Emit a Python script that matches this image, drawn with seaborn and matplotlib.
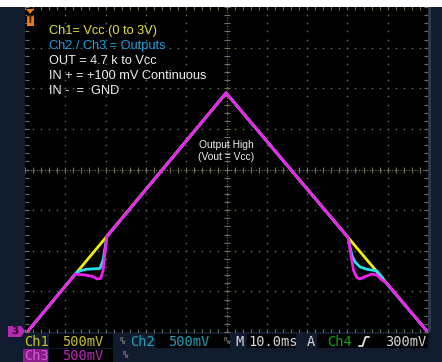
import numpy as np
import pandas as pd
import matplotlib
matplotlib.use("Agg")
import matplotlib.pyplot as plt
import seaborn as sns
from matplotlib.patches import Rectangle, Polygon
from matplotlib.lines import Line2D

# Scope traces: time in ms, voltage in V
ch1_time = [0.74, 49.9, 99.75]
ch1_volt = [0.0, 2.93, 0.0]

ch2_time = [0.74, 12.6, 13.6, 15.3, 18.6, 19.4, 20.3, 49.9,
            80.2, 80.6, 81.2, 81.9, 83.1, 84.8, 87.3, 88.5, 89.3, 99.75]
ch2_volt = [0.0, 0.71, 0.74, 0.76, 0.77, 0.88, 1.16, 2.93,
            1.15, 1.04, 0.92, 0.85, 0.79, 0.76, 0.74, 0.67, 0.61, 0.0]

ch3_time = [0.74, 12.5, 14.9, 16.95, 17.9, 18.8, 19.4, 19.85, 20.3, 49.9,
            80.2, 80.8, 81.5, 82.3, 83.1, 84.4, 86.0, 87.3, 88.5, 89.75, 99.75]
ch3_volt = [0.0, 0.70, 0.69, 0.67, 0.64, 0.65, 0.75, 0.96, 1.16, 2.93,
            1.15, 0.96, 0.75, 0.66, 0.64, 0.67, 0.70, 0.69, 0.63, 0.59, 0.0]

notes = ["Ch1= Vcc (0 to 3V)", "Ch2 / Ch3 = Outputs", "OUT = 4.7 k to Vcc",
         "IN + = +100 mV Continuous", "IN -  =  GND"]
note_colors = ["#e6e232", "#1e9fe0", "#f0f0f0", "#f0f0f0", "#f0f0f0"]

W, H = 442, 362
NAVY = "#111b2e"
GRID = "#727256"
YELLOW, CYAN, MAGENTA = "#f2f000", "#22e2ee", "#f21ef2"

sns.set_theme(style="dark")
plt.rcParams["font.family"] = ["Liberation Sans", "DejaVu Sans"]

fig = plt.figure(figsize=(W / 100, H / 100), dpi=100, facecolor=NAVY)


def fx(x):
    return x / W


def fy(y):
    return 1 - y / H


# white strip along the top edge
fig.patches.append(Rectangle((0, fy(7)), 1, 7 / H, transform=fig.transFigure,
                             facecolor="white", edgecolor="none", zorder=0))
# lighter strip at the right edge of the screen
fig.patches.append(Rectangle((fx(428), fy(332)), 3 / W, 325 / H, transform=fig.transFigure,
                             facecolor="#2c3a4e", edgecolor="none", zorder=0))

ax = fig.add_axes([fx(25), fy(332), (428 - 25) / W, (332 - 7) / H])
ax.set_facecolor("black")
ax.set_xlim(0, 100)
ax.set_ylim(-0.012, 3.988)
ax.set_xticks([])
ax.set_yticks([])
ax.grid(False)
for s in ax.spines.values():
    s.set_visible(False)

T = ax.transAxes
# graticule: dotted division lines
ys_fine = np.arange(0, 41) / 40
xs_fine = np.arange(0, 51) / 50
for k in range(1, 10):
    if k == 5:
        continue
    ax.plot(np.full_like(ys_fine, k / 10), ys_fine, ls="none", marker="s", ms=1.0,
            mew=0, color=GRID, transform=T, zorder=1)
for k in range(1, 8):
    if k == 4:
        continue
    ax.plot(xs_fine, np.full_like(xs_fine, k / 8), ls="none", marker="s", ms=1.0,
            mew=0, color=GRID, transform=T, zorder=1)
# center cross with minor ticks
ax.plot([0.5, 0.5], [0, 1], ls=(0, (1, 1.5)), lw=0.8, color=GRID, transform=T, zorder=1)
ax.plot([0, 1], [0.5, 0.5], ls=(0, (1, 1.5)), lw=0.8, color=GRID, transform=T, zorder=1)
ax.plot(np.full_like(ys_fine, 0.5), ys_fine, ls="none", marker="_", ms=4.5, mew=0.8,
        color=GRID, transform=T, zorder=1)
ax.plot(xs_fine, np.full_like(xs_fine, 0.5), ls="none", marker="|", ms=4.5, mew=0.8,
        color=GRID, transform=T, zorder=1)
# edge ticks
for e in (0.004, 0.996):
    ax.plot(xs_fine, np.full_like(xs_fine, e), ls="none", marker="|", ms=3, mew=0.8,
            color=GRID, transform=T, zorder=1)
    ax.plot(np.full_like(ys_fine, e), ys_fine, ls="none", marker="_", ms=3, mew=0.8,
            color=GRID, transform=T, zorder=1)

# traces
for t, v, c in ((ch1_time, ch1_volt, YELLOW), (ch2_time, ch2_volt, CYAN),
                (ch3_time, ch3_volt, MAGENTA)):
    df = pd.DataFrame({"t": t, "v": v})
    sns.lineplot(data=df, x="t", y="v", sort=False, estimator=None, color=c,
                 lw=2.0, ax=ax, zorder=3, legend=False)
ax.set_xlabel("")
ax.set_ylabel("")

# annotations on screen
for i, (s, c) in enumerate(zip(notes, note_colors)):
    fig.text(fx(49), fy(31 + 15 * i), s, color=c, fontsize=9.2, ha="left", va="center")
fig.text(fx(226), fy(145), "Output High", color="#f0f0f0", fontsize=7.4, ha="center", va="center")
fig.text(fx(226), fy(157.5), "(Vout = Vcc)", color="#f0f0f0", fontsize=7.4, ha="center", va="center")

# trigger position marker
ORANGE = "#f07a10"
fig.patches.append(Polygon([(fx(26), fy(9)), (fx(34), fy(9)), (fx(30), fy(14))],
                           closed=True, transform=fig.transFigure, facecolor=ORANGE,
                           edgecolor="none", zorder=5))
fig.patches.append(Rectangle((fx(26.5), fy(25.5)), 7 / W, 11 / H,
                             transform=fig.transFigure, facecolor=ORANGE,
                             edgecolor="none", zorder=5))
fig.text(fx(30), fy(20), "T", color="#3a1a00", fontsize=7, fontweight="bold",
         family="DejaVu Sans", ha="center", va="center", zorder=6)

# channel 3 ground marker
fig.patches.append(Polygon([(fx(8), fy(326)), (fx(21), fy(326)), (fx(25), fy(331)),
                            (fx(21), fy(337)), (fx(8), fy(337))], closed=True,
                           transform=fig.transFigure, facecolor="#b52ab5",
                           edgecolor="none", zorder=5))
fig.text(fx(14.5), fy(331.5), "3", color="#2a0a2a", fontsize=7.5, fontweight="bold",
         ha="center", va="center", zorder=6, family="DejaVu Sans")

# status bar
MONO = "DejaVu Sans Mono"
for x0, x1, y0, y1 in ((49, 113, 334, 348), (155, 230, 334, 348),
                       (247, 296, 334, 348), (317, 428, 334, 348),
                       (49, 113, 349, 362)):
    fig.patches.append(Rectangle((fx(x0), fy(y1)), (x1 - x0) / W, (y1 - y0) / H,
                                 transform=fig.transFigure, facecolor="black",
                                 edgecolor="none", zorder=2))
fig.patches.append(Rectangle((fx(23), fy(362)), 25 / W, 13 / H, transform=fig.transFigure,
                             facecolor="#8a1c8a", edgecolor="none", zorder=2))

row1, row2 = 341.5, 355.5
status = [
    (24, row1, "Ch1", "#c8c42e"), (62, row1, "500mV", "#c8c42e"),
    (130, row1, "Ch2", "#22a0b4"), (168, row1, "500mV", "#22a0b4"),
    (235, row1, "M", "#d8d8d8"), (248, row1, "10.0ms", "#d8d8d8"),
    (307, row1, "A", "#d8d8d8"), (327, row1, "Ch4", "#12a012"),
    (385, row1, "300mV", "#d8d8d8"),
    (24, row2, "Ch3", "#d25ad2"), (62, row2, "500mV", "#b82ab8"),
]
for x, y, s, c in status:
    fig.text(fx(x), fy(y), s, color=c, fontsize=9.8, family=MONO, ha="left",
             va="center", zorder=4)
for x, y in ((119, row1), (224, row1), (122, row2)):
    fig.text(fx(x), fy(y - 2), "B", color="#9a9a9a", fontsize=4, family=MONO,
             ha="left", va="center", zorder=4)
    fig.text(fx(x + 3), fy(y + 1.5), "W", color="#9a9a9a", fontsize=4, family=MONO,
             ha="left", va="center", zorder=4)
# rising edge trigger glyph
fig.lines.append(Line2D([fx(359), fx(362.5), fx(365.5), fx(369)],
                        [fy(346), fy(346), fy(337), fy(337)],
                        transform=fig.transFigure, color="#e0e0e0", lw=1.3, zorder=4))

fig.savefig("out.png", dpi=100, facecolor=NAVY)
